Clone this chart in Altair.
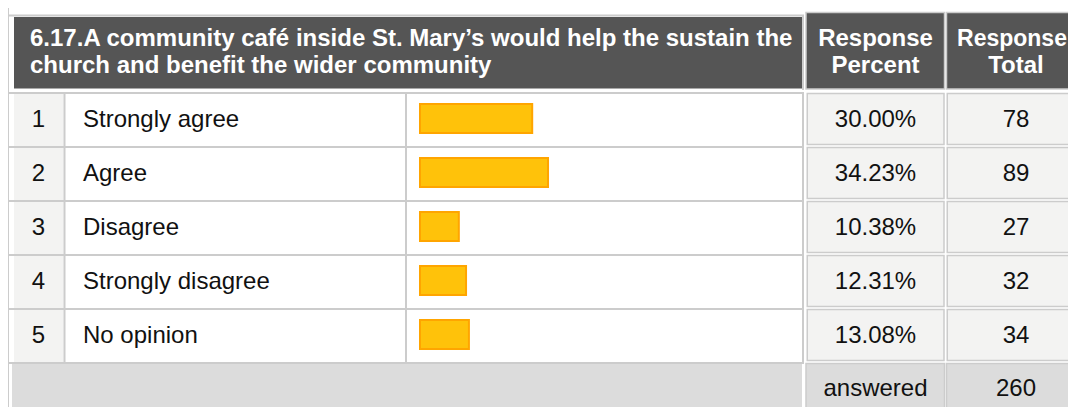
import altair as alt
import pandas as pd

# ---------------- data ----------------
row_numbers = ["1", "2", "3", "4", "5"]
answer_labels = ["Strongly agree", "Agree", "Disagree", "Strongly disagree", "No opinion"]
response_percent = [30.00, 34.23, 10.38, 12.31, 13.08]
response_total = [78, 89, 27, 32, 34]
answered_label = "answered"
answered_total = 260
question_lines = [
    "6.17.A community café inside St. Mary’s would help the sustain the",
    "church and benefit the wider community",
]
percent_header = ["Response", "Percent"]
total_header = ["Response", "Total"]

# ---------------- layout (page pixels) ----------------
M = 8
RIGHT = 1068
BOTTOM = 407
W, H = RIGHT - M, BOTTOM - M
ROW_TOP = 94
ROW_PITCH = 54
ROW_BODY = 52
N = len(answer_labels)
FOOT_TOP = ROW_TOP + N * ROW_PITCH

HEADER = "#555555"
LIGHT = "#f3f3f2"
FOOT = "#dcdcdc"
LINE = "#cccccc"
BAR_FILL = "#FFC20A"
BAR_EDGE = "#FFA500"
FONT = "Liberation Sans"
FS = 24

xs = alt.Scale(domain=[M, RIGHT], range=[0, W], nice=False, zero=False)
ys = alt.Scale(domain=[M, BOTTOM], range=[0, H], nice=False, zero=False)

# plain rects (fills and grid lines)
plain = []
def add(x, x2, y, y2, fill):
    plain.append(dict(x=x, x2=x2, y=y, y2=y2, fill=fill))

add(7, 9, M, BOTTOM, LINE)          # outer left line
add(8, 804, 14.5, 16.5, LINE)       # top line
add(14, 802, 17, 88.5, HEADER)      # question header
add(802, 804, 15, 90, LINE)
for i in range(N):
    top = ROW_TOP + i * ROW_PITCH
    add(14, 63.5, top, top + ROW_BODY, LIGHT)
for k in range(N + 1):
    y = ROW_TOP + k * ROW_PITCH
    add(8, 804, y - 2, y, LINE)
for xa, xb in [(63.5, 65.5), (405, 407), (802, 804)]:
    add(xa, xb, ROW_TOP - 2, FOOT_TOP, LINE)
add(12, 802, FOOT_TOP, BOTTOM, FOOT)
plain_df = pd.DataFrame(plain)

# stroked cells
cells = []
def cell(x, x2, y, y2, fill):
    cells.append(dict(x=x, x2=x2, y=y, y2=y2, fill=fill))

cell(806, 944.5, 12.5, 89, HEADER)
cell(946.5, RIGHT + 20, 12.5, 89, HEADER)
for i in range(N):
    top = ROW_TOP + i * ROW_PITCH
    cell(807.25, 944, top - 0.5, top + 50.5, LIGHT)
    cell(947.25, RIGHT + 20, top - 0.5, top + 50.5, LIGHT)
cell(806, 944.5, FOOT_TOP - 0.5, BOTTOM + 10, FOOT)
cell(946.5, RIGHT + 20, FOOT_TOP - 0.5, BOTTOM + 10, FOOT)
cells_df = pd.DataFrame(cells)

def rect_layer(df, **kw):
    return alt.Chart(df).mark_rect(clip=True, **kw).encode(
        x=alt.X("x:Q", scale=xs, axis=None),
        x2="x2:Q",
        y=alt.Y("y:Q", scale=ys, axis=None),
        y2="y2:Q",
        fill=alt.Fill("fill:N", scale=None),
    )

plain_layer = rect_layer(plain_df)
cell_layer = rect_layer(cells_df, stroke=LINE, strokeWidth=1.5)

# bars
bar_df = pd.DataFrame({
    "pct": response_percent,
    "zero": [0] * N,
    "y": [ROW_TOP + i * ROW_PITCH + 10 for i in range(N)],
    "y2": [ROW_TOP + i * ROW_PITCH + 39 for i in range(N)],
})
bar_layer = alt.Chart(bar_df).mark_rect(
    fill=BAR_FILL, stroke=BAR_EDGE, strokeWidth=2
).encode(
    x=alt.X("pct:Q", scale=alt.Scale(domain=[0, 100], range=[412, 786], nice=False), axis=None),
    x2="zero:Q",
    y=alt.Y("y:Q", scale=ys, axis=None),
    y2="y2:Q",
)

# texts
def text_layer(rows, align, bold, color, size=FS):
    df = pd.DataFrame(rows)
    return alt.Chart(df).mark_text(
        align=align, baseline="alphabetic", font=FONT, fontSize=size,
        fontWeight="bold" if bold else "normal", color=color,
    ).encode(
        x=alt.X("x:Q", scale=xs, axis=None),
        y=alt.Y("y:Q", scale=ys, axis=None),
        text="t:N",
    )

LINE1, LINE2 = 46, 72.5
PCT_X, TOT_X, NUM_X, LAB_X = 875.5, 1016, 38.5, 83

head_left = [dict(x=30, y=LINE1, t=question_lines[0]), dict(x=30, y=LINE2, t=question_lines[1])]
head_center = [
    dict(x=PCT_X, y=LINE1, t=percent_header[0]), dict(x=PCT_X, y=LINE2, t=percent_header[1]),
    dict(x=TOT_X, y=LINE2, t=total_header[1]),
]
head_edge = [dict(x=TOT_X - 4, y=LINE1, t=total_header[0])]
body_left, body_center = [], []
for i in range(N):
    base = ROW_TOP + i * ROW_PITCH + 32.7
    body_center.append(dict(x=NUM_X, y=base, t=row_numbers[i]))
    body_left.append(dict(x=LAB_X, y=base, t=answer_labels[i]))
    body_center.append(dict(x=PCT_X, y=base, t=f"{response_percent[i]:.2f}%"))
    body_center.append(dict(x=TOT_X, y=base, t=str(response_total[i])))
body_center.append(dict(x=PCT_X, y=FOOT_TOP + 31.5, t=answered_label))
body_center.append(dict(x=TOT_X, y=FOOT_TOP + 31.5, t=str(answered_total)))

chart = alt.layer(
    plain_layer,
    cell_layer,
    bar_layer,
    text_layer(head_left, "left", True, "white"),
    text_layer(head_center, "center", True, "white"),
    text_layer(head_edge, "center", True, "white", size=23),
    text_layer(body_left, "left", False, "#111111"),
    text_layer(body_center, "center", False, "#111111"),
).resolve_scale(x="independent").properties(
    width=W, height=H, padding=0, background="white",
    autosize=alt.AutoSizeParams(type="none"),
).configure_view(stroke=None)

chart.save("out.html", embed_options={"renderer": "svg", "actions": False})
